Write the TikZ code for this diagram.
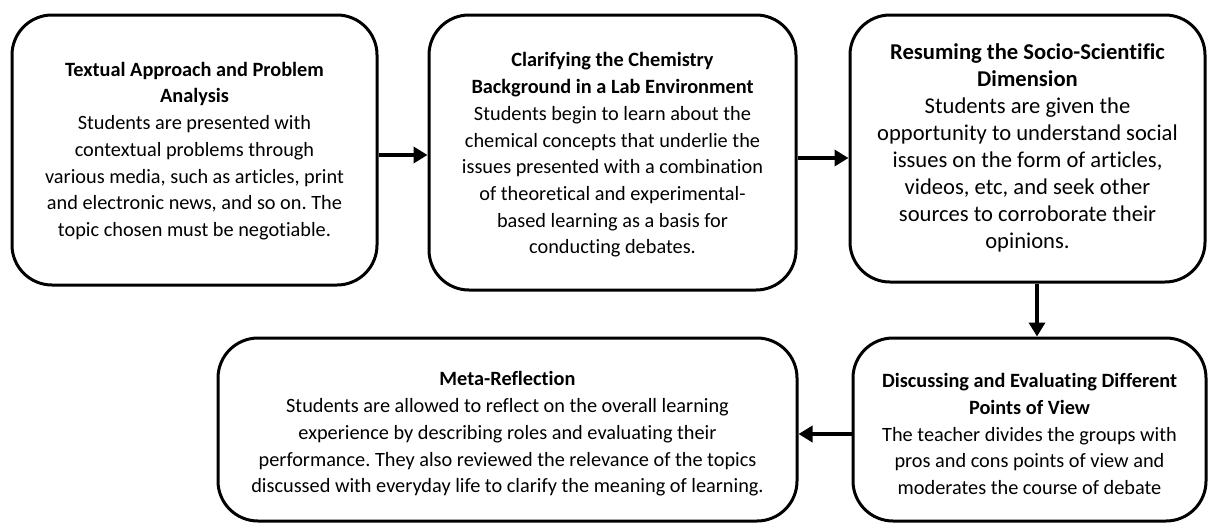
\documentclass[tikz,border=0pt]{standalone}
\usepackage{fontspec}
\setmainfont{Carlito}[Ligatures=NoCommon]
\usetikzlibrary{arrows.meta}
\frenchspacing
\begin{document}
\begin{tikzpicture}[x=1pt,y=-1pt,
  stage/.style={draw=black, line width=3pt, rounded corners=40pt, inner sep=0pt},
  txt/.style={align=center, inner sep=0pt, font=\fontsize{20.3}{26.7}\selectfont},
  flow/.style={line width=4.5pt, -{Triangle[length=14pt,width=16pt]}}]
\useasboundingbox (0,0) rectangle (1209,522);
\node[stage, minimum width=365pt, minimum height=270pt] (b1) at (194.5,150) {};
\node[stage, minimum width=367pt, minimum height=275pt] (b2) at (612.5,152.5) {};
\node[stage, minimum width=355pt, minimum height=267pt] (b3) at (1027.5,148.5) {};
\node[stage, minimum width=579pt, minimum height=183pt] (b4) at (507.5,429.5) {};
\node[stage, minimum width=353pt, minimum height=183pt] (b5) at (1029.5,429.5) {};
\node[txt] (t1) at (194.5,151)
 {\textbf{Textual Approach and Problem}\\\textbf{Analysis}\\Students are presented with\\contextual problems through\\various media, such as articles, print\\and electronic news, and so on. The\\topic chosen must be negotiable.};
\node[txt] (t2) at (612.5,155)
 {\textbf{Clarifying the Chemistry}\\\textbf{Background in a Lab Environment}\\Students begin to learn about the\\chemical concepts that underlie the\\issues presented with a combination\\of theoretical and experimental-\\based learning as a basis for\\conducting debates.};
\node[txt, font=\fontsize{22.6}{26.9}\selectfont] (t3) at (1027.5,148)
 {\textbf{Resuming the Socio-Scientific}\\\textbf{Dimension}\\Students are given the\\opportunity to understand social\\issues on the form of articles,\\videos, etc, and seek other\\sources to corroborate their\\opinions.};
\node[txt] (t4) at (507.5,434)
 {\textbf{Meta-Reflection}\\Students are allowed to reflect on the overall learning\\experience by describing roles and evaluating their\\performance. They also reviewed the relevance of the topics\\discussed with everyday life to clarify the meaning of learning.};
\node[txt] (t5) at (1029.5,434)
 {\textbf{Discussing and Evaluating Different}\\\textbf{Points of View}\\The teacher divides the groups with\\pros and cons points of view and\\moderates the course of debate};
\draw[flow] (b1.east |- 0,155) -- (b2.west |- 0,155);
\draw[flow] (b2.east |- 0,158) -- (b3.west |- 0,158);
\draw[flow] (b3.south -| 1037,0) -- (b5.north -| 1037,0);
\draw[flow] (b5.west |- 0,434) -- (b4.east |- 0,434);
\end{tikzpicture}
\end{document}
